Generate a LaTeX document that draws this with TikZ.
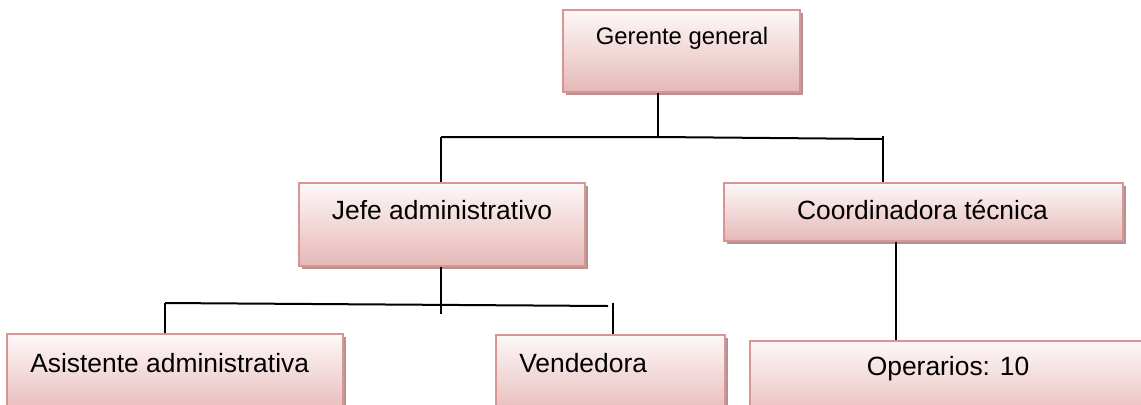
\documentclass[tikz,border=0pt]{standalone}
\usepackage{fontspec}
\setmainfont{Liberation Sans}
\usepackage{xcolor}
\usepackage{tikz}
\usetikzlibrary{positioning,shadows,calc}

\definecolor{boxtop}{HTML}{FEF8F8}
\definecolor{boxbot}{HTML}{E5B8B7}
\definecolor{boxline}{HTML}{D99594}
\definecolor{boxshade}{HTML}{B39292}

\begin{document}
\begin{tikzpicture}[
  x=0.75pt, y=0.75pt,
  box/.style={rectangle, draw=boxline, line width=1.1pt, top color=boxtop, bottom color=boxbot,
    inner sep=0pt, drop shadow={shadow xshift=2.25pt, shadow yshift=-2.25pt, fill=boxshade, opacity=1}},
  lbl/.style={anchor=base, inner sep=0pt, font=\fontsize{19.8pt}{24pt}\selectfont},
  link/.style={line width=1.5pt, draw=black}
]
\useasboundingbox (0,0) rectangle (1141,-404);
\clip (0,0) rectangle (1141,-404);

% Boxes
\node[box, minimum width=177.75pt, minimum height=61.5pt] (gerente) at (681.5,-51) {};
\node[box, minimum width=214.5pt, minimum height=62.25pt] (jefe) at (442,-224.5) {};
\node[box, minimum width=299.25pt, minimum height=43.5pt] (coord) at (923.5,-212) {};
\node[box, minimum width=252pt, minimum height=62.25pt] (asist) at (175,-375.5) {};
\node[box, minimum width=171.75pt, minimum height=62.25pt] (vend) at (610.5,-376.5) {};
\node[box, minimum width=303pt, minimum height=62.25pt] (oper) at (952,-382.5) {};

% Labels
\node[lbl, font=\fontsize{17.9pt}{22pt}\selectfont] (gerente-t) at (682,-44) {Gerente general};
\node[lbl] (jefe-t) at (442,-219) {Jefe administrativo};
\node[lbl] (coord-t) at (922.5,-219) {Coordinadora técnica};
\node[lbl, anchor=base west] (asist-t) at (30,-372) {Asistente administrativa};
\node[lbl, anchor=base west] (vend-t) at (519,-372) {Vendedora};
\node[lbl] (oper-t) at (948,-375) {Operarios: 10};

% Junctions
\coordinate (top) at (658,-137);
\coordinate (topl) at (441,-137);
\coordinate (topr) at (883,-139);
\coordinate (mid) at (441,-305);
\coordinate (midl) at (165,-303);
\coordinate (midr) at (608,-306);
\coordinate (vtop) at (613,-303);
\coordinate (op) at (896,-290);

% Upper level
\draw[link] (gerente.south -| top) -- (top);
\draw[link] (topl) -- (top) -- (topr);
\draw[link] (topl) -- (jefe.north -| topl);
\draw[link, shorten >=-2.25pt] (coord.north -| topr) -- (topr);

% Lower level
\draw[link, shorten >=-6.75pt] (jefe.south -| mid) -- (mid);
\draw[link] (midl) -- (midr);
\draw[link] (midl) -- (asist.north -| midl);
\draw[link] (vtop) -- (vend.north -| vtop);
\draw[link] (coord.south -| op) -- (oper.north -| op);

\end{tikzpicture}
\end{document}
